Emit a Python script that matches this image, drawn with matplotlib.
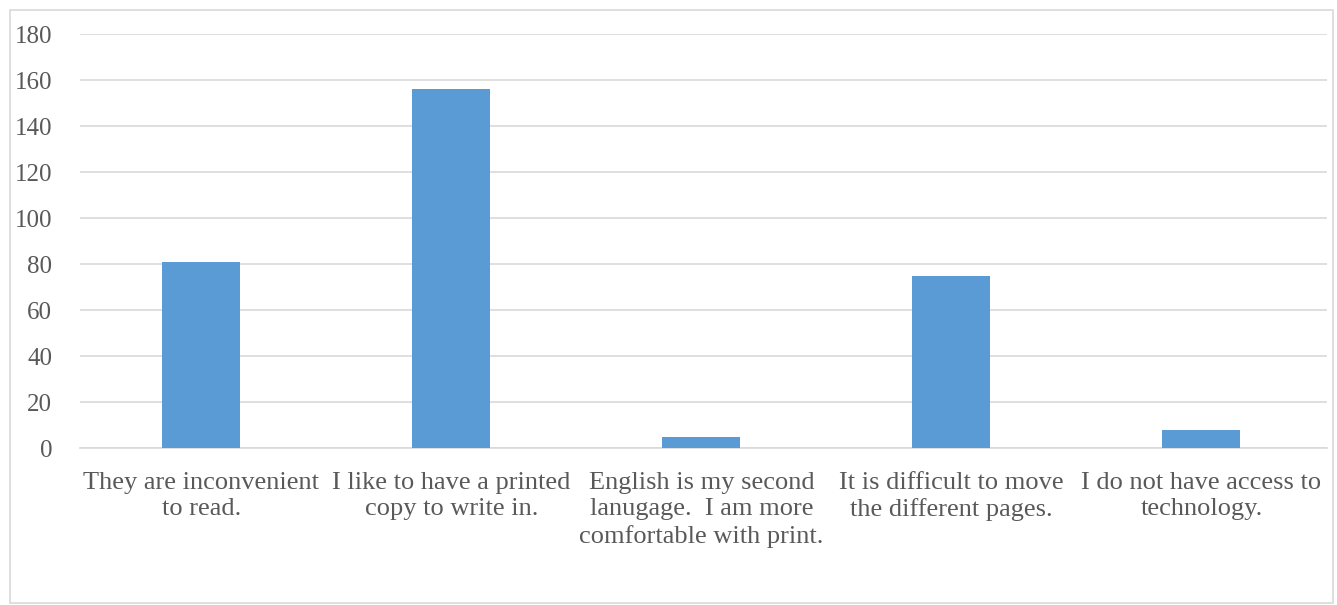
import numpy as np
import matplotlib
matplotlib.use("Agg")
import matplotlib.pyplot as plt
from matplotlib.patches import Rectangle

BLUE = "#5B9BD5"
GRID = "#D9D9D9"
TEXT = "#595959"

reasons = [
    "They are inconvenient\nto read.",
    "I like to have a printed\ncopy to write in.",
    "English is my second\nlanugage.  I am more\ncomfortable with print.",
    "It is difficult to move\nthe different pages.",
    "I do not have access to\ntechnology.",
]
counts = [81, 156, 5, 75, 8]
y_ticks = [0, 20, 40, 60, 80, 100, 120, 140, 160, 180]

plt.rcParams.update({
    "font.family": "Liberation Serif",
    "font.size": 19,
})

fig = plt.figure(figsize=(13.37, 6.05), dpi=100)
ax = fig.add_axes([0.0598, 0.2595, 0.9327, 0.6843])

x = np.arange(len(reasons))
ax.bar(x, counts, width=0.312, color=BLUE, zorder=3)

ax.set_xlim(-0.486, 4.502)
ax.set_ylim(0, 180)
ax.set_yticks(y_ticks)
ax.set_yticklabels([str(t) for t in y_ticks], color=TEXT)
ax.set_xticks(x)
ax.set_xticklabels(reasons, color=TEXT, linespacing=1.27)
ax.tick_params(axis="y", length=0, pad=20, labelsize=18)
ax.tick_params(axis="x", length=0, pad=17)

ax.yaxis.grid(True, color=GRID, lw=1.2, zorder=0)
for s in ["top", "right", "left"]:
    ax.spines[s].set_visible(False)
ax.spines["bottom"].set_color(GRID)
ax.spines["bottom"].set_linewidth(1.2)

# outer chart frame
fig.patches.append(Rectangle((10 / 1337, 2 / 605), 1323 / 1337, 593 / 605,
                             transform=fig.transFigure, fill=False,
                             edgecolor=GRID, lw=1.2))

fig.savefig("out.png", dpi=100)
